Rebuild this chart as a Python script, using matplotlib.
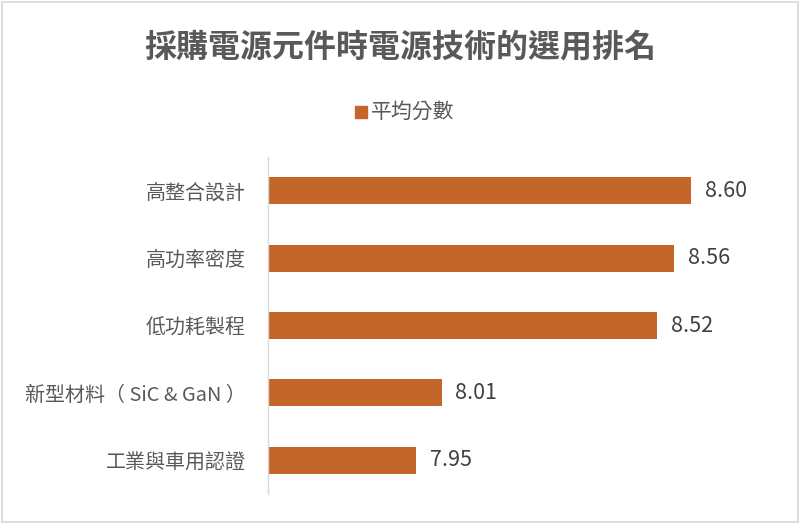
import matplotlib.pyplot as plt
from matplotlib.patches import Rectangle

plt.rcParams["font.family"] = ["Noto Sans CJK TC", "DejaVu Sans"]

title = "採購電源元件時電源技術的選用排名"
series_name = "平均分數"
categories = ["高整合設計", "高功率密度", "低功耗製程", "新型材料（ SiC & GaN ）", "工業與車用認證"]
scores = [8.60, 8.56, 8.52, 8.01, 7.95]

bar_color = "#C4662A"
text_color = "#595959"

fig = plt.figure(figsize=(8.0, 5.24), dpi=100)
ax = fig.add_axes([0.335, 0.0573, 0.635, 0.643])

ypos = list(range(len(categories)))
ax.barh(ypos, scores, height=0.4, color=bar_color, left=0)
ax.set_xlim(7.6, 8.8)
ax.set_ylim(len(categories) - 0.5, -0.5)
ax.set_yticks(ypos)
ax.set_yticklabels(categories, fontsize=14.4, color=text_color)
ax.tick_params(axis="y", length=0, pad=16)
ax.set_xticks([])
for side in ["top", "right", "bottom"]:
    ax.spines[side].set_visible(False)
ax.spines["left"].set_color("#D9D9D9")
ax.spines["left"].set_linewidth(1)

for y, v in zip(ypos, scores):
    ax.annotate(f"{v:.2f}", xy=(v, y), xytext=(10, 0), textcoords="offset points",
                va="center", ha="left", fontsize=15.5, color="#404040")

fig.text(0.5, 0.91, title, ha="center", va="center", fontsize=23,
         fontweight="bold", color=text_color)

# legend
fig.patches.append(Rectangle((355 / 800, 1 - 118 / 524), 12 / 800, 12 / 524,
                             transform=fig.transFigure, color=bar_color))
fig.text(371 / 800, 1 - 112 / 524, series_name, ha="left", va="center",
         fontsize=15, color=text_color)

# chart border
fig.patches.append(Rectangle((0.002, 0.003), 0.995, 0.993, transform=fig.transFigure,
                             fill=False, edgecolor="#D9D9D9", linewidth=1.2))

fig.savefig("out.png", dpi=100)
